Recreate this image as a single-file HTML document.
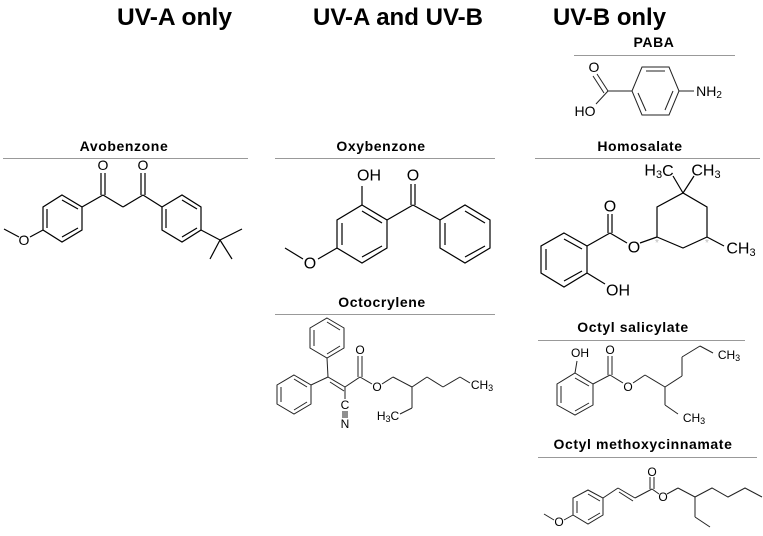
<!DOCTYPE html>
<html><head><meta charset="utf-8"><style>
html,body{margin:0;padding:0;background:#fff;}
svg{display:block;}
.h{font-family:"Liberation Sans",sans-serif;font-weight:bold;font-size:24px;fill:#000;}
.t{font-family:"Liberation Sans",sans-serif;font-weight:bold;font-size:14px;letter-spacing:0.6px;fill:#000;text-anchor:middle;}
.a{font-family:"Liberation Sans",sans-serif;font-size:14px;fill:#000;text-anchor:middle;dominant-baseline:central;}
.s{font-family:"Liberation Sans",sans-serif;font-size:12px;fill:#000;text-anchor:middle;dominant-baseline:central;}
.b{fill:none;stroke:#000;stroke-width:1.2;stroke-linejoin:miter;}
.bt{fill:none;stroke:#222;stroke-width:1;}
.r{stroke:#999;stroke-width:1;}
</style></head><body>
<svg width="763" height="536" viewBox="0 0 763 536" xmlns="http://www.w3.org/2000/svg">
<text class="h" x="117" y="25" textLength="115" lengthAdjust="spacingAndGlyphs">UV-A only</text>
<text class="h" x="313" y="25" textLength="170" lengthAdjust="spacingAndGlyphs">UV-A and UV-B</text>
<text class="h" x="553" y="25" textLength="113" lengthAdjust="spacingAndGlyphs">UV-B only</text>

<!-- titles -->
<text class="t" x="654" y="47">PABA</text><line class="r" x1="574" y1="55.5" x2="735" y2="55.5"/>
<text class="t" x="124" y="151">Avobenzone</text><line class="r" x1="3" y1="158.5" x2="248" y2="158.5"/>
<text class="t" x="381" y="151">Oxybenzone</text><line class="r" x1="275" y1="158.5" x2="495" y2="158.5"/>
<text class="t" x="640" y="151">Homosalate</text><line class="r" x1="535" y1="158.5" x2="760" y2="158.5"/>
<text class="t" x="382" y="307">Octocrylene</text><line class="r" x1="275" y1="314.5" x2="495" y2="314.5"/>
<text class="t" x="633" y="332">Octyl salicylate</text><line class="r" x1="538" y1="340.5" x2="745" y2="340.5"/>
<text class="t" x="643" y="449">Octyl methoxycinnamate</text><line class="r" x1="538" y1="457.5" x2="757" y2="457.5"/>

<!-- PABA -->
<g class="bt">
<polygon points="632,91 642,67 669,67 679,91 669,115 642,115"/>
<line x1="646" y1="71" x2="665" y2="71"/><line x1="673" y1="91" x2="665" y2="110"/><line x1="646" y1="111" x2="638" y2="93"/>
<line x1="679" y1="91" x2="694" y2="91"/>
<line x1="632" y1="91" x2="608" y2="91"/>
<line x1="608" y1="91" x2="597" y2="74"/><line x1="604" y1="93" x2="593" y2="76"/>
<line x1="608" y1="91" x2="596" y2="104"/>
</g>
<text class="a" x="594" y="67">O</text><text class="a" x="585" y="111">HO</text>
<text class="a" x="709" y="91">NH<tspan font-size="10" dy="4">2</tspan></text>

<!-- Avobenzone -->
<g class="b">
<polygon points="62,195 82,207 82,230 62,242 43,230 43,207"/>
<line x1="62" y1="200" x2="78" y2="209"/><line x1="78" y1="228" x2="62" y2="237"/><line x1="47" y1="228" x2="47" y2="209"/>
<line x1="43" y1="230" x2="30" y2="237"/><line x1="19" y1="237" x2="4" y2="229"/>
<line x1="82" y1="207" x2="103" y2="195"/><line x1="103" y1="195" x2="123" y2="207"/><line x1="123" y1="207" x2="143" y2="195"/><line x1="143" y1="195" x2="162" y2="207"/>
<line x1="101" y1="195" x2="101" y2="173"/><line x1="105" y1="195" x2="105" y2="173"/>
<line x1="141" y1="195" x2="141" y2="173"/><line x1="145" y1="195" x2="145" y2="173"/>
<polygon points="162,207 182,195 201,207 201,230 182,242 162,230"/>
<line x1="182" y1="200" x2="197" y2="209"/><line x1="197" y1="228" x2="182" y2="237"/><line x1="166" y1="228" x2="166" y2="209"/>
<line x1="201" y1="230" x2="220" y2="240"/><line x1="220" y1="240" x2="242" y2="229"/><line x1="220" y1="240" x2="210" y2="259"/><line x1="220" y1="240" x2="232" y2="259"/>
</g>
<text class="a" x="24" y="240">O</text><text class="a" x="103" y="165">O</text><text class="a" x="143" y="165">O</text>

<!-- Oxybenzone -->
<g class="b">
<polygon points="362,205 387,220 387,248 362,263 337,248 337,220"/>
<line x1="362" y1="211" x2="382" y2="223"/><line x1="382" y1="246" x2="362" y2="257"/><line x1="342" y1="245" x2="342" y2="223"/>
<line x1="362" y1="205" x2="362" y2="186"/>
<line x1="387" y1="220" x2="413" y2="205"/><line x1="413" y1="205" x2="440" y2="220"/>
<line x1="411" y1="205" x2="411" y2="184"/><line x1="415" y1="205" x2="415" y2="184"/>
<polygon points="440,220 465,205 490,220 490,248 465,263 440,248"/>
<line x1="465" y1="211" x2="485" y2="223"/><line x1="485" y1="246" x2="465" y2="257"/><line x1="445" y1="245" x2="445" y2="223"/>
<line x1="337" y1="248" x2="318" y2="259"/><line x1="303" y1="259" x2="285" y2="248"/>
</g>
<text class="a" x="369" y="176" style="font-size:16px">OH</text><text class="a" x="413" y="176" style="font-size:16px">O</text><text class="a" x="310" y="264" style="font-size:16px">O</text>

<!-- Octocrylene -->
<g class="bt">
<polygon points="327,318 344,328 344,348 327,358 310,348 310,328"/>
<line x1="327" y1="322" x2="340" y2="330"/><line x1="340" y1="346" x2="327" y2="354"/><line x1="314" y1="346" x2="314" y2="330"/>
<line x1="327" y1="358" x2="328" y2="377"/>
<polygon points="294,375 311,385 311,404 294,414 277,404 277,385"/>
<line x1="294" y1="379" x2="307" y2="387"/><line x1="307" y1="402" x2="294" y2="410"/><line x1="281" y1="402" x2="281" y2="387"/>
<line x1="311" y1="385" x2="328" y2="377"/>
<line x1="328" y1="377" x2="345" y2="387"/><line x1="330" y1="382" x2="344" y2="391"/>
<line x1="345" y1="387" x2="345" y2="399"/>
<line x1="343" y1="411" x2="343" y2="418"/><line x1="345" y1="411" x2="345" y2="418"/><line x1="347" y1="411" x2="347" y2="418"/>
<line x1="345" y1="387" x2="360" y2="377"/>
<line x1="358" y1="377" x2="358" y2="356"/><line x1="362" y1="377" x2="362" y2="356"/>
<line x1="360" y1="377" x2="372" y2="384"/><line x1="382" y1="384" x2="393" y2="377"/>
<line x1="393" y1="377" x2="412" y2="387"/><line x1="412" y1="387" x2="427" y2="377"/><line x1="427" y1="377" x2="443" y2="387"/><line x1="443" y1="387" x2="460" y2="377"/><line x1="460" y1="377" x2="470" y2="383"/>
<line x1="412" y1="387" x2="412" y2="408"/><line x1="412" y1="408" x2="400" y2="414"/>
</g>
<text class="s" x="360" y="350">O</text><text class="s" x="377" y="387">O</text><text class="s" x="345" y="405">C</text><text class="s" x="345" y="424">N</text>
<text class="s" x="482" y="385">CH<tspan font-size="9" dy="3">3</tspan></text>
<text class="s" x="388" y="416">H<tspan font-size="9" dy="3">3</tspan><tspan dy="-3">C</tspan></text>

<!-- Homosalate -->
<g class="b">
<polygon points="564,233 587,246 587,273 564,287 541,273 541,246"/>
<line x1="564" y1="239" x2="582" y2="249"/><line x1="582" y1="271" x2="564" y2="281"/><line x1="546" y1="270" x2="546" y2="249"/>
<line x1="587" y1="246" x2="610" y2="233"/>
<line x1="608" y1="233" x2="608" y2="214"/><line x1="612" y1="233" x2="612" y2="214"/>
<line x1="610" y1="233" x2="627" y2="243"/><line x1="640" y1="243" x2="657" y2="237"/>
<polyline points="657,237 657,207 683,193 707,207 707,237 683,248 657,237"/>
<line x1="683" y1="193" x2="673" y2="176"/><line x1="683" y1="193" x2="694" y2="176"/>
<line x1="707" y1="237" x2="724" y2="246"/>
<line x1="587" y1="273" x2="605" y2="284"/>
</g>
<text x="657" y="246" style="font:10px 'Liberation Sans',sans-serif;fill:#bbb" text-anchor="middle">*</text>
<text x="707" y="246" style="font:10px 'Liberation Sans',sans-serif;fill:#bbb" text-anchor="middle">*</text>
<text class="a" x="610" y="207" style="font-size:16px">O</text><text class="a" x="634" y="248" style="font-size:16px">O</text>
<text class="a" x="618" y="291" style="font-size:16px">OH</text>
<text class="a" x="659" y="171" style="font-size:16px">H<tspan font-size="11" dy="4">3</tspan><tspan dy="-4">C</tspan></text>
<text class="a" x="706" y="171" style="font-size:16px">CH<tspan font-size="11" dy="4">3</tspan></text>
<text class="a" x="741" y="249" style="font-size:16px">CH<tspan font-size="11" dy="4">3</tspan></text>

<!-- Octyl salicylate -->
<g class="bt">
<polygon points="575,373 593,384 593,405 575,415 557,405 557,384"/>
<line x1="575" y1="378" x2="589" y2="386"/><line x1="589" y1="403" x2="575" y2="411"/><line x1="561" y1="403" x2="561" y2="386"/>
<line x1="575" y1="373" x2="577" y2="361"/>
<line x1="593" y1="384" x2="610" y2="375"/>
<line x1="608" y1="375" x2="608" y2="356"/><line x1="612" y1="375" x2="612" y2="356"/>
<line x1="610" y1="375" x2="623" y2="383"/><line x1="633" y1="383" x2="645" y2="375"/>
<line x1="645" y1="375" x2="665" y2="387"/><line x1="665" y1="387" x2="682" y2="376"/><line x1="682" y1="376" x2="682" y2="357"/><line x1="682" y1="357" x2="700" y2="346"/><line x1="700" y1="346" x2="713" y2="353"/>
<line x1="665" y1="387" x2="665" y2="405"/><line x1="665" y1="405" x2="678" y2="414"/>
</g>
<text class="s" x="580" y="353">OH</text><text class="s" x="610" y="350">O</text><text class="s" x="628" y="387">O</text>
<text class="s" x="729" y="355">CH<tspan font-size="9" dy="3">3</tspan></text>
<text class="s" x="694" y="418">CH<tspan font-size="9" dy="3">3</tspan></text>

<!-- Octyl methoxycinnamate -->
<g class="bt">
<polygon points="588,490 603,498 603,515 588,524 573,515 573,498"/>
<line x1="588" y1="494" x2="600" y2="501"/><line x1="600" y1="513" x2="588" y2="520"/><line x1="577" y1="513" x2="577" y2="501"/>
<line x1="573" y1="515" x2="564" y2="520"/><line x1="554" y1="520" x2="544" y2="514"/>
<line x1="603" y1="498" x2="618" y2="488"/><line x1="618" y1="488" x2="635" y2="498"/><line x1="619" y1="492" x2="633" y2="501"/>
<line x1="635" y1="498" x2="652" y2="489"/>
<line x1="650" y1="489" x2="650" y2="477"/><line x1="654" y1="489" x2="654" y2="477"/>
<line x1="652" y1="489" x2="659" y2="494"/><line x1="667" y1="494" x2="678" y2="488"/>
<polyline points="678,488 695,497 712,488 728,497 745,488 762,497"/>
<line x1="695" y1="497" x2="695" y2="517"/><line x1="695" y1="517" x2="710" y2="527"/>
</g>
<text class="s" x="652" y="472">O</text><text class="s" x="663" y="497">O</text><text class="s" x="559" y="522">O</text>
</svg>
</body></html>
